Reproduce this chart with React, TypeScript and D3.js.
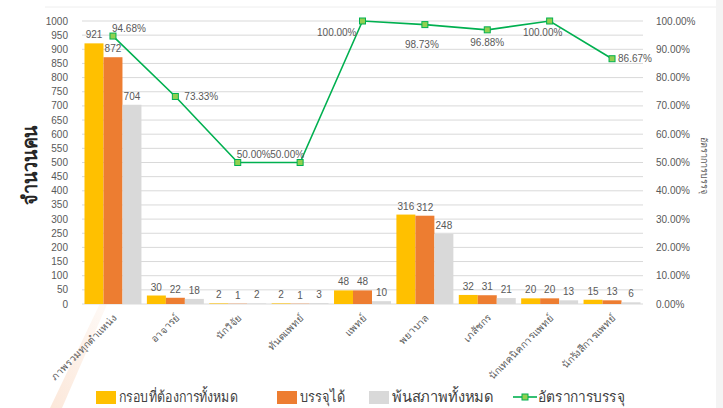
import React, { useEffect, useRef } from 'react';
import * as d3 from 'd3';

// categories (ตำแหน่ง)
const categories = [
  'ภาพรวมทุกตำแหน่ง',
  'อาจารย์',
  'นักวิจัย',
  'ทันตแพทย์',
  'แพทย์',
  'พยาบาล',
  'เภสัชกร',
  'นักเทคนิคการแพทย์',
  'นักรังสีการแพทย์',
];

const seriesNames = ['กรอบที่ต้องการทั้งหมด', 'บรรจุได้', 'พ้นสภาพทั้งหมด'];
const frameValues = [921, 30, 2, 2, 48, 316, 32, 20, 15];
const filledValues = [872, 22, 1, 1, 48, 312, 31, 20, 13];
const resignedValues = [704, 18, 2, 3, 10, 248, 21, 13, 6];
const rateName = 'อัตราการบรรจุ';
const rateValues = [94.68, 73.33, 50.0, 50.0, 100.0, 98.73, 96.88, 100.0, 86.67];

const leftTicks = d3.range(0, 1001, 50);
const rightTicks = d3.range(0, 101, 10);

const colors = ['#FFC000', '#ED7D31', '#D9D9D9'];
const lineColor = '#00B050';
const markerFill = '#92D050';
const textColor = '#595959';
const gridColor = '#D9D9D9';
const font = '"Liberation Sans", Arial, sans-serif';

// where each % label sits relative to its point: [dx, dy, anchor]
const rateLabelPos: [number, number, string][] = [
  [-1, -8, 'start'],
  [9, 0, 'start'],
  [-1, -8, 'start'],
  [4, -8, 'end'],
  [-6, 11, 'end'],
  [-3, 20, 'middle'],
  [0, 13, 'middle'],
  [-7, 11, 'middle'],
  [6, 0, 'start'],
];

const W = 723;
const H = 408;

export default function App() {
  const ref = useRef<SVGSVGElement>(null);

  useEffect(() => {
    const svg = d3.select(ref.current);
    svg.selectAll('*').remove();

    const x = d3.scaleBand().domain(categories).range([82, 643]).paddingInner(0.087).paddingOuter(0.04);
    const x1 = d3.scaleBand().domain(seriesNames).range([0, x.bandwidth()]);
    const y = d3.scaleLinear().domain([0, 1000]).range([304, 21]);
    const y2 = d3.scaleLinear().domain([0, 100]).range([304, 21]);

    // slide background decoration
    const defs = svg.append('defs');
    const grad = defs.append('linearGradient').attr('id', 'swoosh').attr('x1', '0').attr('y1', '1').attr('x2', '1').attr('y2', '0');
    grad.append('stop').attr('offset', '0').attr('stop-color', '#F4B183').attr('stop-opacity', 0.3);
    grad.append('stop').attr('offset', '1').attr('stop-color', '#F4B183').attr('stop-opacity', 0);
    svg.append('rect').attr('width', W).attr('height', H).attr('fill', '#fff');
    svg.append('path').attr('d', 'M50,408 L62,408 L122,270 L116,270 Z').attr('fill', 'url(#swoosh)');
    svg.append('rect').attr('x', 716).attr('y', 0).attr('width', 7).attr('height', H).attr('fill', '#F4F4F4');
    svg.append('line').attr('x1', 45).attr('x2', 716).attr('y1', 7).attr('y2', 7).attr('stroke', '#EEEEEE');

    // gridlines
    svg.append('g').selectAll('line').data(leftTicks).join('line')
      .attr('x1', 82).attr('x2', 643)
      .attr('y1', (d) => y(d)).attr('y2', (d) => y(d))
      .attr('stroke', gridColor).attr('stroke-width', 1);

    // left axis labels
    svg.append('g').selectAll('text').data(leftTicks).join('text')
      .attr('x', 68).attr('y', (d) => y(d)).attr('dy', '0.35em')
      .attr('text-anchor', 'end').attr('font-size', 10).attr('font-family', font).attr('fill', textColor)
      .text((d) => d);

    // right axis labels
    svg.append('g').selectAll('text').data(rightTicks).join('text')
      .attr('x', 656).attr('y', (d) => y2(d)).attr('dy', '0.35em')
      .attr('font-size', 10).attr('font-family', font).attr('fill', textColor)
      .text((d) => d.toFixed(2) + '%');

    // bars
    const seriesValues = [frameValues, filledValues, resignedValues];
    const groups = svg.append('g').selectAll('g').data(categories).join('g')
      .attr('transform', (c) => `translate(${x(c)},0)`);
    groups.each(function (c, i) {
      const g = d3.select(this);
      seriesNames.forEach((s, k) => {
        const v = seriesValues[k][i];
        g.append('rect')
          .attr('x', x1(s)!).attr('y', y(v))
          .attr('width', x1.bandwidth()).attr('height', y(0) - y(v))
          .attr('fill', colors[k]);
        g.append('text')
          .attr('x', x1(s)! + x1.bandwidth() / 2).attr('y', y(v) - 5)
          .attr('text-anchor', 'middle').attr('font-size', 10).attr('font-family', font).attr('fill', textColor)
          .text(v);
      });
    });

    // category labels
    svg.append('g').selectAll('text').data(categories).join('text')
      .attr('transform', (c) => `translate(${x(c)! + x.bandwidth() / 2 + 2},316) rotate(-45)`)
      .attr('text-anchor', 'end').attr('dy', '0.35em')
      .attr('font-size', 10).attr('fill', textColor).attr('font-family', font)
      .text((c) => c);

    // rate line
    const cx = (i: number) => x(categories[i])! + x.bandwidth() / 2;
    const line = d3.line<number>().x((_, i) => cx(i)).y((d) => y2(d));
    svg.append('path').datum(rateValues).attr('d', line)
      .attr('fill', 'none').attr('stroke', lineColor).attr('stroke-width', 1.6);
    svg.append('g').selectAll('rect').data(rateValues).join('rect')
      .attr('x', (_, i) => cx(i) - 3).attr('y', (d) => y2(d) - 3)
      .attr('width', 6).attr('height', 6)
      .attr('fill', markerFill).attr('stroke', lineColor).attr('stroke-width', 1);
    svg.append('g').selectAll('text').data(rateValues).join('text')
      .attr('x', (_, i) => cx(i) + rateLabelPos[i][0])
      .attr('y', (d, i) => y2(d) + rateLabelPos[i][1])
      .attr('dy', '0.35em')
      .attr('text-anchor', (_, i) => rateLabelPos[i][2])
      .attr('font-size', 10).attr('font-family', font).attr('fill', textColor)
      .text((d) => d.toFixed(2) + '%');

    // axis titles
    svg.append('text')
      .attr('transform', 'translate(30,165) rotate(-90)')
      .attr('text-anchor', 'middle').attr('dy', '0.35em')
      .attr('font-size', 20).attr('font-weight', 'bold')
      .attr('textLength', 80).attr('lengthAdjust', 'spacingAndGlyphs')
      .attr('fill', '#262626').attr('font-family', font)
      .text('จำนวนคน');
    svg.append('text')
      .attr('transform', 'translate(701,165) rotate(90)')
      .attr('text-anchor', 'middle').attr('font-size', 9)
      .attr('fill', textColor).attr('font-family', font)
      .text(rateName);

    // legend
    const legendX = [96, 277, 369, 513];
    const legendTextW = [119, 45, 102, 87];
    const leg = svg.append('g').attr('font-family', font).attr('font-size', 15).attr('fill', '#404040');
    seriesNames.forEach((s, k) => {
      leg.append('rect').attr('x', legendX[k]).attr('y', 391).attr('width', 20).attr('height', 13).attr('fill', colors[k]);
      leg.append('text').attr('x', legendX[k] + 23).attr('y', 397).attr('dy', '0.35em')
        .attr('textLength', legendTextW[k]).attr('lengthAdjust', 'spacingAndGlyphs')
        .text(s);
    });
    const lx = legendX[3];
    leg.append('line').attr('x1', lx).attr('x2', lx + 24).attr('y1', 397).attr('y2', 397)
      .attr('stroke', lineColor).attr('stroke-width', 1.6);
    leg.append('rect').attr('x', lx + 9).attr('y', 394).attr('width', 6).attr('height', 6)
      .attr('fill', markerFill).attr('stroke', lineColor);
    leg.append('text').attr('x', lx + 25).attr('y', 397).attr('dy', '0.35em')
      .attr('textLength', legendTextW[3]).attr('lengthAdjust', 'spacingAndGlyphs')
      .text(rateName);
  }, []);

  return (
    <svg ref={ref} width={W} height={H}
      style={{ position: 'absolute', left: 0, top: 0, display: 'block' }} />
  );
}
